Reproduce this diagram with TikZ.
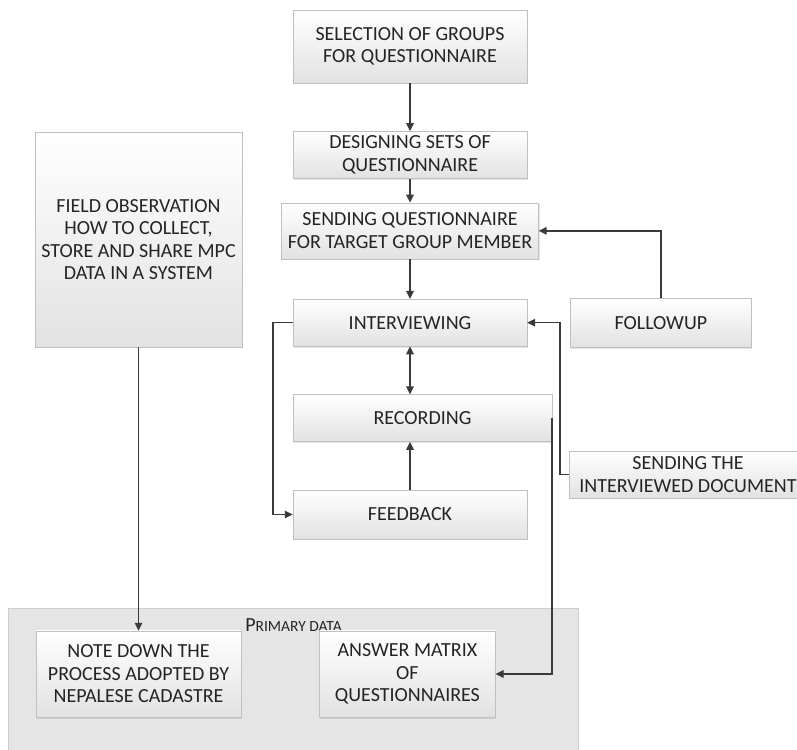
\documentclass[tikz,border=0pt]{standalone}
\usepackage{fontspec}
\setmainfont{Carlito}
\usetikzlibrary{arrows.meta, positioning, shadows}
\definecolor{LineGray}{RGB}{58,58,58}
\definecolor{BoxRule}{RGB}{192,192,192}
\definecolor{BoxBot}{RGB}{226,226,226}
\definecolor{PanelBG}{RGB}{229,229,229}
\definecolor{PanelRule}{RGB}{205,205,205}
\definecolor{TextGray}{RGB}{36,36,36}

\begin{document}
\begin{tikzpicture}[x=1pt, y=1pt,
  node distance=48pt,
  every node/.style={font=\fontsize{20}{22.5}\selectfont, text=TextGray},
  box/.style={draw=BoxRule, top color=white, bottom color=BoxBot, align=center,
              inner sep=0pt, drop shadow={opacity=0.2, shadow xshift=1pt, shadow yshift=-1.5pt}},
  arrow/.style={-{Triangle[length=8pt, width=7.5pt]}, draw=LineGray, line width=1.5pt},
  dblarrow/.style={arrow, {Triangle[length=8pt, width=7.5pt]}-{Triangle[length=8pt, width=7.5pt]}}
]
\fill[white] (0,0) rectangle (797,749);
\useasboundingbox (0,0) rectangle (797,749);
% primary data panel
\draw[draw=PanelRule, fill=PanelBG] (8,-10) rectangle (578,141);
\node (plabel) at (293.5,124) {P{\fontsize{15.5}{17}\selectfont RIMARY DATA}};

% questionnaire column
\node[box, minimum width=234pt, minimum height=73pt] (sel) at (410,702.5) {SELECTION OF GROUPS\\FOR QUESTIONNAIRE};
\node[box, minimum width=234pt, minimum height=47pt, below=of sel] (des) {DESIGNING SETS OF\\QUESTIONNAIRE};
\node[box, minimum width=257pt, minimum height=56pt, below=24pt of des] (send) {SENDING QUESTIONNAIRE\\FOR TARGET GROUP MEMBER};
\node[box, minimum width=234pt, minimum height=47pt, below=40pt of send] (intv) {INTERVIEWING};
\node[box, minimum width=259pt, minimum height=47pt, below right=48pt and 0pt of intv.south west] (rec) {RECORDING};
\node[box, minimum width=234pt, minimum height=49pt, below right=48pt and 0pt of rec.south west] (fb) {FEEDBACK};
\node[box, minimum width=181pt, minimum height=49pt, right=43pt of intv] (fu) {FOLLOWUP};
\node[box, minimum width=238pt, minimum height=47pt] (sid) at (688,274.5) {SENDING THE\\INTERVIEWED DOCUMENT};

% field observation
\node[box, minimum width=207pt, minimum height=215pt] (field) at (138.5,509.5) {FIELD OBSERVATION\\HOW TO COLLECT,\\STORE AND SHARE MPC\\DATA IN A SYSTEM};

% primary data boxes
\node[box, minimum width=205pt, minimum height=86pt] (note) at (138.5,75) {NOTE DOWN THE\\PROCESS ADOPTED BY\\NEPALESE CADASTRE};
\node[box, minimum width=176pt, minimum height=86pt, right=78pt of note] (ans) {ANSWER MATRIX\\OF\\QUESTIONNAIRES};

\draw[arrow] (sel) -- (des);
\draw[arrow] (des) -- (send);
\draw[arrow] (send) -- (intv);
\draw[arrow] (fu.north) |- (send.east);
\draw[dblarrow] (intv.south) -- (intv.south |- rec.north);
\draw[arrow] (fb.north) -- (fb.north |- rec.south);
\draw[arrow] (intv.west) -- ++(-20,0) |- (fb.west);
\draw[arrow] (sid.west) -- ++(-9,0) |- (intv.east);
\draw[arrow] (rec.east) -- (rec.east |- ans.east) -- (ans.east);
\draw[arrow] (field) -- (note);
\end{tikzpicture}
\end{document}
